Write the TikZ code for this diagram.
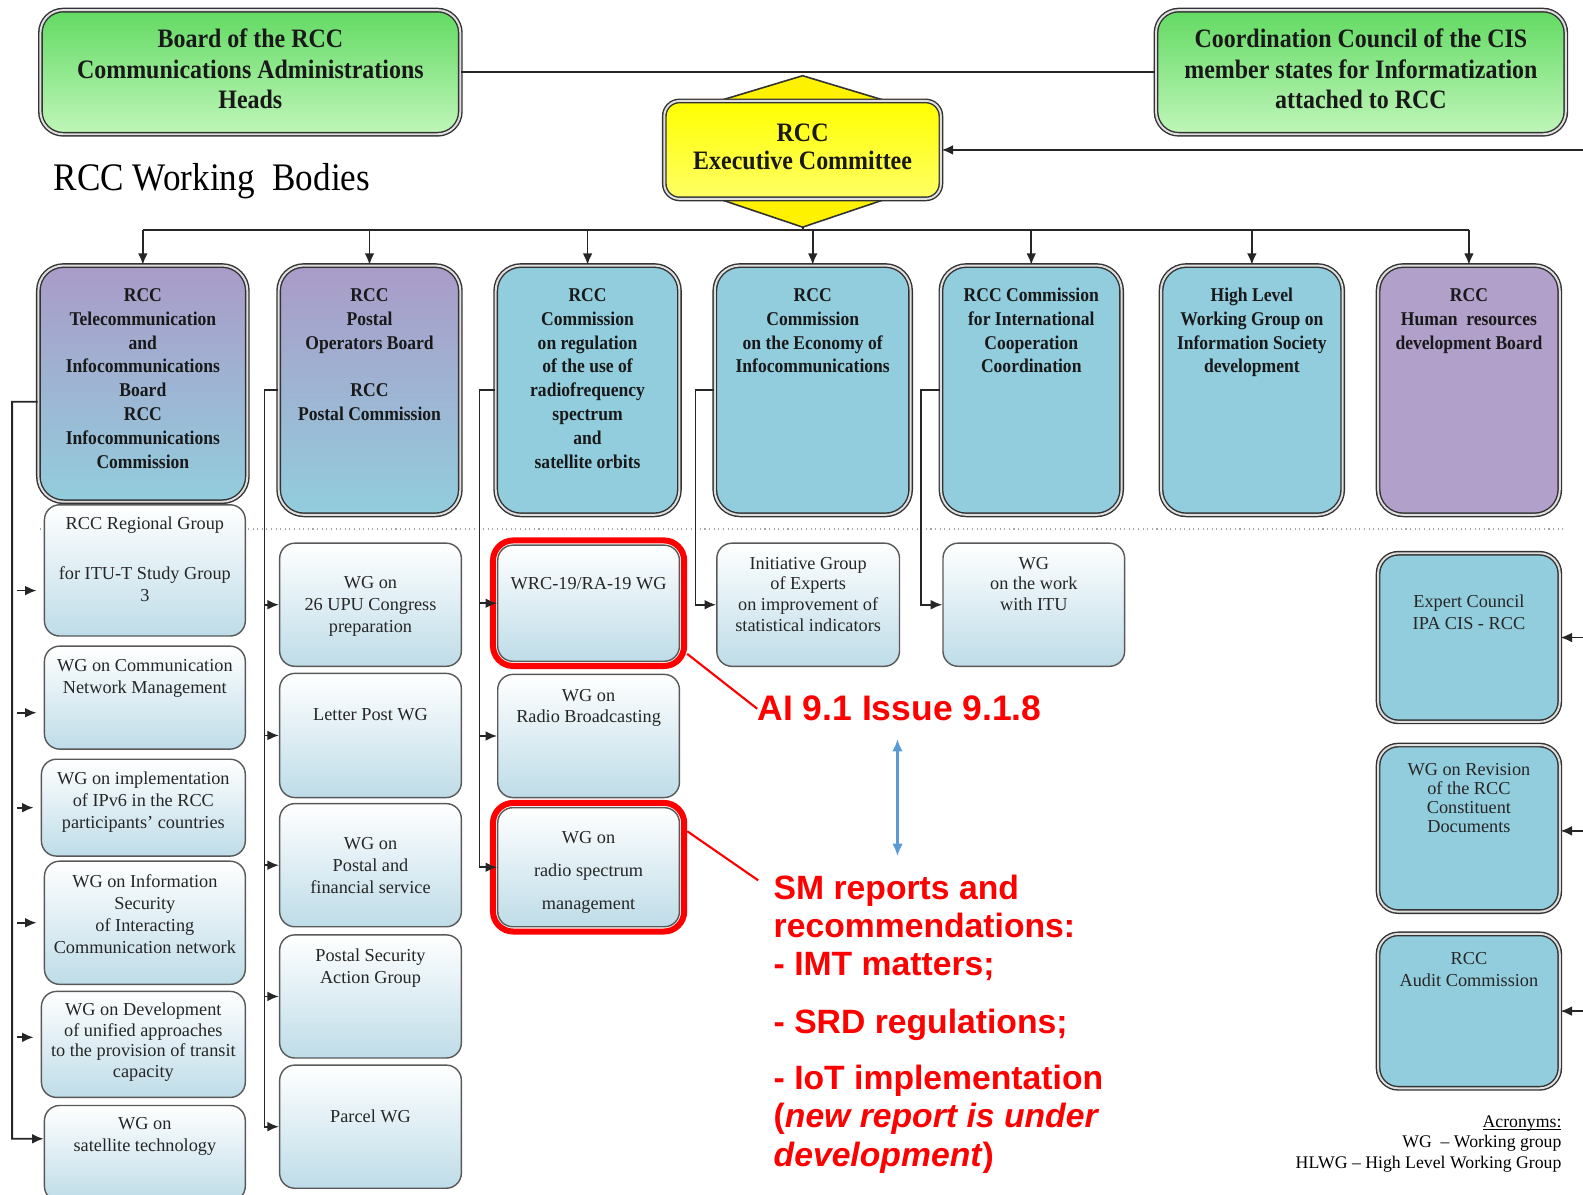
\documentclass[tikz,border=0pt]{standalone}
\usepackage{fontspec}
\setmainfont{Liberation Serif}
\newfontfamily\condserif[FakeStretch=0.9]{Liberation Serif}
\newfontfamily\annosans{Liberation Sans}
\usepackage{tikz}
\usetikzlibrary{positioning,fit,arrows.meta}
\tikzset{>={Latex[length=6.5pt,width=5.5pt]}}
\definecolor{grntop}{RGB}{98,218,98}
\definecolor{grnbot}{RGB}{192,246,186}
\definecolor{purptop}{RGB}{170,155,200}
\definecolor{boxblue}{RGB}{146,205,221}
\definecolor{hrpurp}{RGB}{176,160,202}
\definecolor{wgblue}{RGB}{190,220,232}
\definecolor{redmark}{RGB}{255,0,0}
\definecolor{arrowblue}{RGB}{91,155,213}
\tikzstyle{bodybox}=[rectangle,rounded corners=0.5cm,draw=black!80,line width=0.8pt,double=white!75!gray,double distance=1.1pt]
\tikzstyle{purplebox}=[bodybox,top color=purptop,bottom color=boxblue]
\tikzstyle{bluebox}=[bodybox,fill=boxblue]
\tikzstyle{hrbox}=[bodybox,fill=hrpurp]
\tikzstyle{greenbox}=[bodybox,rounded corners=0.45cm,top color=grntop,bottom color=grnbot,text=black!90,font=\condserif\bfseries\fontsize{15}{17.1}\selectfont]
\tikzstyle{execbox}=[bodybox,rounded corners=0.3cm,top color=yellow,bottom color=yellow!60!white,text=black!90,font=\condserif\bfseries\fontsize{15}{15.4}\selectfont]
\tikzstyle{wgbox}=[rectangle,rounded corners=0.3cm,draw=black!65,line width=0.8pt,top color=white,bottom color=wgblue]
\tikzstyle{bodytext}=[inner sep=0pt,text=black!90,font=\condserif\bfseries\fontsize{11}{13.5}\selectfont]
\tikzstyle{wgtext}=[inner sep=0pt,text=black!85,font=\fontsize{10.3}{12.5}\selectfont]
\tikzstyle{wgtextb}=[inner sep=0pt,text=black!85,font=\fontsize{10.3}{11.6}\selectfont]
\tikzstyle{redframe}=[rectangle,rounded corners=0.4cm,draw=redmark,line width=3.4pt,inner sep=0.08cm]
\tikzstyle{redline}=[draw=redmark,line width=1.2pt]
\tikzstyle{annotext}=[inner sep=0pt,text=redmark]
\tikzstyle{wire}=[line width=1pt,black!85]
\tikzstyle{wirearrow}=[->,wire]
\tikzstyle{stubarrow}=[wirearrow,shorten <=3pt,shorten >=4pt]
\tikzstyle{bluearrow}=[{Latex[length=7pt,width=6pt]}-{Latex[length=7pt,width=6pt]},draw=arrowblue,line width=1.3pt]

\begin{document}
\begin{tikzpicture}[x=0.02cm,y=-0.02cm]
    \useasboundingbox (0,0) rectangle (1568,1183);
    \draw[dotted,gray!70,line width=0.6pt] (40,524) -- (1548,524);

    % governing bodies
    \node[greenbox,minimum width=8.32cm,minimum height=2.46cm] (board) at (248,71.5) {\begin{tabular}{c}Board of the RCC\\ Communications Administrations\\ Heads\end{tabular}};
    \node[greenbox,minimum width=8.12cm,minimum height=2.46cm] (council) at (1348,71.5) {\begin{tabular}{c}Coordination Council of the CIS\\ member states for Informatization\\ attached to RCC\end{tabular}};
    \coordinate (exectop) at (795,75);
    \coordinate (execbot) at (795,225);
    \filldraw[fill=yellow,draw=black!80,line width=0.9pt] (exectop) -- (878,100) -- (878,197) -- (execbot) -- (712,197) -- (712,100) -- cycle;
    \node[execbox,minimum width=5.48cm,minimum height=1.94cm] (exec) at (795,148.5) {\begin{tabular}{c}RCC\\ Executive Committee\end{tabular}};
    \node[anchor=west,inner sep=0pt,font=\condserif\fontsize{22}{25}\selectfont] (wbtitle) at (53,179) {RCC Working\ \ Bodies};

    % working bodies
    \node[purplebox,minimum width=4.14cm,minimum height=4.68cm] (telecom) at (141.5,380) {};
    \node[bodytext,below=0.38cm of telecom.north] (telecomtxt) {\begin{tabular}{c}RCC\\ Telecommunication\\ and\\ Infocommunications\\ Board\\ RCC\\ Infocommunications\\ Commission\end{tabular}};
    \node[purplebox,minimum width=3.6cm,minimum height=4.94cm] (postal) at (366,386.5) {};
    \node[bodytext,below=0.38cm of postal.north] (postaltxt) {\begin{tabular}{c}RCC\\ Postal\\ Operators Board\\ \\ RCC\\ Postal Commission\end{tabular}};
    \node[bluebox,minimum width=3.64cm,minimum height=4.94cm] (radiofreq) at (582,386.5) {};
    \node[bodytext,below=0.38cm of radiofreq.north] (radiofreqtxt) {\begin{tabular}{c}RCC\\ Commission\\ on regulation\\ of the use of\\ radiofrequency\\ spectrum\\ and\\ satellite orbits\end{tabular}};
    \node[bluebox,minimum width=3.88cm,minimum height=4.94cm] (economy) at (805,386.5) {};
    \node[bodytext,below=0.38cm of economy.north] (economytxt) {\begin{tabular}{c}RCC\\ Commission\\ on the Economy of\\ Infocommunications\end{tabular}};
    \node[bluebox,minimum width=3.58cm,minimum height=4.94cm] (intl) at (1021.5,386.5) {};
    \node[bodytext,below=0.38cm of intl.north] (intltxt) {\begin{tabular}{c}RCC Commission\\ for International\\ Cooperation\\ Coordination\end{tabular}};
    \node[bluebox,minimum width=3.6cm,minimum height=4.94cm] (hlwg) at (1240,386.5) {};
    \node[bodytext,below=0.38cm of hlwg.north] (hlwgtxt) {\begin{tabular}{c}High Level\\ Working Group on\\ Information Society\\ development\end{tabular}};
    \node[hrbox,minimum width=3.6cm,minimum height=4.94cm] (hrboard) at (1455,386.5) {};
    \node[bodytext,below=0.38cm of hrboard.north] (hrboardtxt) {\begin{tabular}{c}RCC\\ Human\ \ resources\\ development Board\end{tabular}};

    % telecommunication groups
    \node[wgbox,minimum width=3.98cm,minimum height=2.6cm] (rgroup) at (143.5,565) {};
    \node[wgtext,below=0.18cm of rgroup.north] (rgrouptxt) {\begin{tabular}{c}RCC Regional Group\\[16pt] for ITU-T Study Group\\ 3\end{tabular}};
    \node[wgbox,minimum width=3.98cm,minimum height=2.04cm] (netmgmt) at (143.5,691) {};
    \node[wgtext,below=0.2cm of netmgmt.north] (netmgmttxt) {\begin{tabular}{c}WG on Communication\\ Network Management\end{tabular}};
    \node[wgbox,minimum width=4.04cm,minimum height=1.92cm] (ipv6) at (142,800) {};
    \node[wgtext,below=0.2cm of ipv6.north] (ipv6txt) {\begin{tabular}{c}WG on implementation\\ of IPv6 in the RCC\\ participants’ countries\end{tabular}};
    \node[wgbox,minimum width=3.98cm,minimum height=2.44cm] (infosec) at (143.5,914) {};
    \node[wgtext,below=0.22cm of infosec.north] (infosectxt) {\begin{tabular}{c}WG on Information\\ Security\\ of Interacting\\ Communication network\end{tabular}};
    \node[wgbox,minimum width=4.04cm,minimum height=2.1cm] (devwg) at (142,1034.5) {};
    \node[wgtextb,below=0.2cm of devwg.north] (devwgtxt) {\begin{tabular}{c}WG on Development\\ of unified approaches\\ to the provision of transit\\ capacity\end{tabular}};
    \node[wgbox,minimum width=3.98cm,minimum height=1.9cm] (satwg) at (143.5,1142.5) {};
    \node[wgtext,below=0.18cm of satwg.north] (satwgtxt) {\begin{tabular}{c}WG on\\ satellite technology\end{tabular}};

    % postal groups
    \node[wgbox,minimum width=3.6cm,minimum height=2.44cm] (upu) at (367,599) {};
    \node[wgtext,below=0.6cm of upu.north] (uputxt) {\begin{tabular}{c}WG on\\ 26 UPU Congress\\ preparation\end{tabular}};
    \node[wgbox,minimum width=3.6cm,minimum height=2.46cm] (letterpost) at (367,728.5) {};
    \node[wgtext,below=0.7cm of letterpost.north] (letterposttxt) {Letter Post WG};
    \node[wgbox,minimum width=3.6cm,minimum height=2.44cm] (postfin) at (367,857) {};
    \node[wgtext,below=0.6cm of postfin.north] (postfintxt) {\begin{tabular}{c}WG on\\ Postal and\\ financial service\end{tabular}};
    \node[wgbox,minimum width=3.6cm,minimum height=2.44cm] (postsec) at (367,987) {};
    \node[wgtext,below=0.22cm of postsec.north] (postsectxt) {\begin{tabular}{c}Postal Security\\ Action Group\end{tabular}};
    \node[wgbox,minimum width=3.6cm,minimum height=2.44cm] (parcel) at (367,1116) {};
    \node[wgtext,below=0.9cm of parcel.north] (parceltxt) {Parcel WG};

    % spectrum groups
    \node[wgbox,minimum width=3.6cm,minimum height=2.3cm] (wrcwg) at (583,597.5) {};
    \node[wgtextb,below=0.64cm of wrcwg.north] (wrcwgtxt) {WRC-19/RA-19 WG};
    \node[wgbox,minimum width=3.6cm,minimum height=2.44cm] (radiobc) at (583,729) {};
    \node[wgtextb,below=0.26cm of radiobc.north] (radiobctxt) {\begin{tabular}{c}WG on\\ Radio Broadcasting\end{tabular}};
    \node[wgbox,minimum width=3.6cm,minimum height=2.36cm] (smwg) at (583,859) {};
    \node[wgtextb,below=0.44cm of smwg.north] (smwgtxt) {\begin{tabular}{c}WG on\\[7pt] radio spectrum\\[7pt] management\end{tabular}};
    \node[redframe,fit=(wrcwg)] (wrcframe) {};
    \node[redframe,fit=(smwg)] (smframe) {};

    \node[wgbox,minimum width=3.62cm,minimum height=2.44cm] (initgroup) at (800.5,599) {};
    \node[wgtextb,below=0.24cm of initgroup.north] (initgrouptxt) {\begin{tabular}{c}Initiative Group\\ of Experts\\ on improvement of\\ statistical indicators\end{tabular}};
    \node[wgbox,minimum width=3.6cm,minimum height=2.44cm] (ituwg) at (1024,599) {};
    \node[wgtextb,below=0.24cm of ituwg.north] (ituwgtxt) {\begin{tabular}{c}WG\\ on the work\\ with ITU\end{tabular}};

    % bodies of the executive committee
    \node[bluebox,rounded corners=0.4cm,minimum width=3.6cm,minimum height=3.34cm] (expert) at (1455,631.5) {};
    \node[wgtext,below=0.78cm of expert.north] (experttxt) {\begin{tabular}{c}Expert Council\\ IPA CIS - RCC\end{tabular}};
    \node[bluebox,rounded corners=0.4cm,minimum width=3.6cm,minimum height=3.3cm] (revision) at (1455,820.5) {};
    \node[wgtext,font=\fontsize{10.3}{10.8}\selectfont,below=0.34cm of revision.north] (revisiontxt) {\begin{tabular}{c}WG on Revision\\ of the RCC\\ Constituent\\ Documents\end{tabular}};
    \node[bluebox,rounded corners=0.4cm,minimum width=3.6cm,minimum height=3.06cm] (audit) at (1455,1001.5) {};
    \node[wgtext,below=0.3cm of audit.north] (audittxt) {\begin{tabular}{c}RCC\\ Audit Commission\end{tabular}};

    \node[anchor=north east,align=right,inner sep=0pt,font=\fontsize{10}{11.6}\selectfont] (acronyms) at (1547,1116) {\underline{\smash{Acronyms:}}\\ WG\ \ -- Working group\\ HLWG -- High Level Working Group};

    % connections
    \coordinate (rimedge) at (1568,0);
    \coordinate (bus) at (795,228);
    \coordinate (trunk1) at (12,398);
    \coordinate (trunk2) at (262,386.5);
    \coordinate (trunk3) at (475,386.5);
    \coordinate (trunk4) at (689,386.5);
    \coordinate (trunk5) at (912,386.5);
    \draw[wire] (board) -- (council);
    \draw[wirearrow] (exec.east -| rimedge) -- (exec.east);
    \draw[wire] (execbot) -- (bus);
    \draw[wire] (telecom.north |- bus) -- (hrboard.north |- bus);
    \draw[wirearrow] (telecom.north |- bus) -- (telecom.north);
    \draw[wirearrow] (postal.north |- bus) -- (postal.north);
    \draw[wirearrow] (radiofreq.north |- bus) -- (radiofreq.north);
    \draw[wirearrow] (economy.north |- bus) -- (economy.north);
    \draw[wirearrow] (intl.north |- bus) -- (intl.north);
    \draw[wirearrow] (hlwg.north |- bus) -- (hlwg.north);
    \draw[wirearrow] (hrboard.north |- bus) -- (hrboard.north);

    \draw[wirearrow] ([yshift=-0.36cm]telecom.west) -- (trunk1) |- ([yshift=0.29cm]satwg.west);
    \draw[stubarrow] ([yshift=-0.4cm]rgroup.west -| trunk1) -- ([yshift=-0.4cm]rgroup.west);
    \draw[stubarrow] ([yshift=-0.3cm]netmgmt.west -| trunk1) -- ([yshift=-0.3cm]netmgmt.west);
    \draw[stubarrow] (ipv6.west -| trunk1) -- (ipv6.west);
    \draw[stubarrow] (infosec.west -| trunk1) -- (infosec.west);
    \draw[stubarrow] ([yshift=0.14cm]devwg.west -| trunk1) -- ([yshift=0.14cm]devwg.west);

    \draw[wirearrow] (postal.west) -- (trunk2) |- (parcel.west);
    \draw[wirearrow] (upu.west -| trunk2) -- (upu.west);
    \draw[wirearrow] (letterpost.west -| trunk2) -- (letterpost.west);
    \draw[wirearrow] (postfin.west -| trunk2) -- (postfin.west);
    \draw[wirearrow] (postsec.west -| trunk2) -- (postsec.west);

    \draw[wirearrow] (radiofreq.west) -- (trunk3) |- (smwg.west);
    \draw[wirearrow] (wrcwg.west -| trunk3) -- (wrcwg.west);
    \draw[wirearrow] (radiobc.west -| trunk3) -- (radiobc.west);

    \draw[wirearrow] (economy.west) -- (trunk4) |- (initgroup.west);
    \draw[wirearrow] (intl.west) -- (trunk5) |- (ituwg.west);

    \draw[wirearrow] (expert.east -| rimedge) -- (expert.east);
    \draw[wirearrow] ([yshift=-0.05cm]revision.east -| rimedge) -- ([yshift=-0.05cm]revision.east);
    \draw[wirearrow] (audit.east -| rimedge) -- (audit.east);

    % agenda item notes
    \node[annotext,anchor=west,font=\annosans\bfseries\fontsize{20}{24}\selectfont] (aiissue) at (750,702) {AI 9.1 Issue 9.1.8};
    \node[annotext,anchor=north west,align=left,font=\annosans\bfseries\fontsize{19}{21.6}\selectfont] (smtext) at (766,866) {SM reports and\\ recommendations:\\ - IMT matters;\\[11pt] - SRD regulations;\\[10pt] - IoT implementation\\ (\textit{new report is under}\\ \textit{development})};
    \draw[redline] ([yshift=0.3cm]wrcframe.south east) -- (aiissue.west);
    \draw[redline] ([yshift=-0.62cm]smframe.north east) -- ([xshift=-0.3cm,yshift=-0.12cm]smtext.north west);
    \coordinate (bluetop) at (889,732);
    \coordinate (bluebot) at (889,848);
    \draw[bluearrow] (bluetop) -- (bluebot);
\end{tikzpicture}
\end{document}
